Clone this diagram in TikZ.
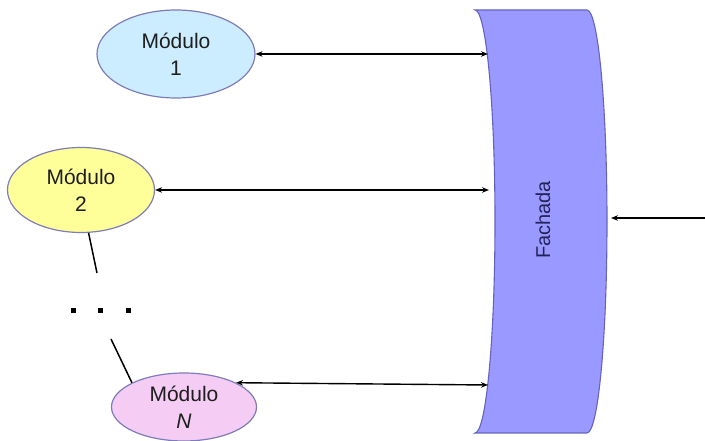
\documentclass[tikz,border=0pt]{standalone}
\usepackage{fontspec}
\setmainfont{Liberation Sans}
\usetikzlibrary{positioning, arrows.meta, shapes.geometric}
\definecolor{borda}{RGB}{125,125,185}
\definecolor{azul}{RGB}{204,236,255}
\definecolor{amarelo}{RGB}{255,255,153}
\definecolor{rosa}{RGB}{244,204,244}
\definecolor{fachadacor}{RGB}{153,153,255}
\definecolor{fachadaborda}{RGB}{100,100,190}
\definecolor{fachadatexto}{RGB}{35,35,90}
\definecolor{texto}{RGB}{30,30,30}

\begin{document}
\begin{tikzpicture}[
    x=1pt, y=1pt,
    modulo/.style={draw=borda, ellipse, line width=1.2pt, inner sep=0pt, align=center, text=texto, font=\fontsize{21}{27}\selectfont},
    arr/.style={<->, line width=1.4pt, >={Stealth[length=7pt, width=5.5pt]}}
]
    \useasboundingbox (0,0) rectangle (705,441);

    % fachada
    \draw[draw=fachadaborda, fill=fachadacor, line width=1.1pt]
        (475,431) arc[start angle=90, end angle=-90, x radius=20pt, y radius=211.5pt]
        -- (587,8) arc[start angle=-90, end angle=90, x radius=20pt, y radius=211.5pt] -- cycle;
    \node[rotate=90, text=fachadatexto, font=\fontsize{20}{24}\selectfont] (fachada) at (543,221) {Fachada};

    % modulos
    \node[modulo, fill=azul, minimum width=158pt, minimum height=88pt] (mod1) at (176,387) {Módulo\\1};
    \node[modulo, fill=amarelo, minimum width=147pt, minimum height=85pt] (mod2) at (81,251) {Módulo\\2};
    \node[modulo, fill=rosa, minimum width=145pt, minimum height=68pt] (modN) at (184,34) {Módulo\\\textit{N}};

    \coordinate (f1) at (488,387);
    \coordinate (f2) at (489,251);
    \coordinate (f3) at (488,56);
    \coordinate (fdir) at (611,223);
    \coordinate (ext) at (705,223);
    \coordinate (d1) at (97,168);
    \coordinate (d2) at (111,102);

    \draw[arr] (mod1) -- (f1);
    \draw[arr] (mod2) -- (f2);
    \draw[arr] (modN.25) -- (f3);
    \draw[->, line width=1.4pt, >={Stealth[length=7pt, width=5.5pt]}] (ext) -- (fdir);

    % reticencias
    \draw[line width=1.5pt] (mod2.-80) -- (d1);
    \draw[line width=1.5pt] (d2) -- (modN.155);
    \foreach \x in {73,100,128}
        \fill (\x-2.5,127.5) rectangle +(5,5);
\end{tikzpicture}
\end{document}
